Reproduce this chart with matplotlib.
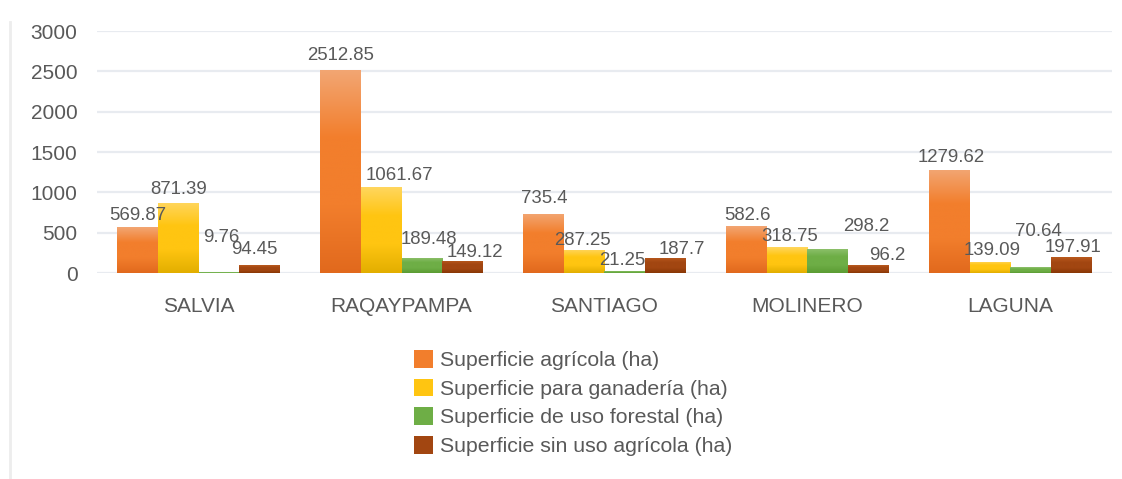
"""Grouped bar chart: land use surface by community (ha)"""
import matplotlib

matplotlib.use("Agg")
import matplotlib.pyplot as plt
import numpy as np
from matplotlib.colors import LinearSegmentedColormap
from matplotlib.lines import Line2D

plt.rcParams["font.family"] = ["Liberation Sans", "DejaVu Sans"]

communities = ["SALVIA", "RAQAYPAMPA", "SANTIAGO", "MOLINERO", "LAGUNA"]
series_names = [
    "Superficie agrícola (ha)",
    "Superficie para ganadería (ha)",
    "Superficie de uso forestal (ha)",
    "Superficie sin uso agrícola (ha)",
]
agricola = [569.87, 2512.85, 735.4, 582.6, 1279.62]
ganaderia = [871.39, 1061.67, 287.25, 318.75, 139.09]
forestal = [9.76, 189.48, 21.25, 298.2, 70.64]
sin_uso = [94.45, 149.12, 187.7, 96.2, 197.91]
y_ticks = [0, 500, 1000, 1500, 2000, 2500, 3000]

# gradient stops (top, middle, bottom) for each series
gradients = [
    ("#F3A673", "#F27E2C", "#E1691D"),
    ("#FFD65E", "#FFC511", "#E2AE00"),
    ("#90C26F", "#6EAE46", "#5B9C33"),
    ("#BA5A1E", "#A24611", "#883705"),
]

# label offsets in pixels (dx, dy) from the top centre of each bar, per series
label_offsets = [
    [(0, 12), (0, 15), (1, 15), (1, 11), (2, 12)],
    [(0, 13), (18, 12), (-2, 9), (2, 11), (2, 11)],
    [(2, 35), (7, 18), (-3, 11), (39, 22), (8, 36)],
    [(-5, 16), (12, 9), (16, 8), (19, 10), (2, 10)],
]

text_color = "#595959"

fig = plt.figure(figsize=(11.22, 4.79), dpi=100)
ax = fig.add_axes([0.0865, 0.430, 0.9045, 0.505])

all_series = [agricola, ganaderia, forestal, sin_uso]
x = np.arange(len(communities))
width = 0.2

handles = []
for i, values in enumerate(all_series):
    top, mid, bottom = gradients[i]
    cmap = LinearSegmentedColormap.from_list(f"g{i}", [bottom, mid, mid, top])
    bars = ax.bar(x + (i - 1.5) * width, values, width, color=mid, label=series_names[i], zorder=2)
    handles.append(bars)
    for j, bar in enumerate(bars):
        x0, y0 = bar.get_x(), bar.get_y()
        x1, y1 = x0 + bar.get_width(), y0 + bar.get_height()
        grad = np.linspace(0, 1, 256).reshape(-1, 1)
        im = ax.imshow(grad, extent=[x0, x1, y0, y1], origin="lower", aspect="auto",
                       cmap=cmap, zorder=3)
        im.set_clip_path(bar)
        dx, dy = label_offsets[i][j]
        ax.annotate(f"{values[j]:g}", (bar.get_x() + bar.get_width() / 2, y1),
                    xytext=(dx, dy), textcoords="offset pixels", ha="center", va="center",
                    fontsize=13.4, color=text_color, zorder=4)

ax.set_xlim(-0.5, len(communities) - 0.5)
ax.set_ylim(0, 3000)
ax.set_yticks(y_ticks)
ax.set_xticks(x)
ax.set_xticklabels(communities)
ax.tick_params(axis="both", length=0, labelsize=15, labelcolor=text_color)
ax.tick_params(axis="x", pad=17)
ax.tick_params(axis="y", pad=14)
ax.grid(axis="y", color="#E8EBF0", linewidth=1.6, zorder=0)
ax.set_axisbelow(True)
for spine in ax.spines.values():
    spine.set_visible(False)

fig.legend(handles=handles, labels=series_names, loc="upper left",
           bbox_to_anchor=(414 / 1122, 1 - 350 / 479), frameon=False, fontsize=15.3,
           labelcolor=text_color, handlelength=0.9, handleheight=0.9, handletextpad=0.3,
           labelspacing=0.40, borderpad=0, borderaxespad=0)

fig.add_artist(Line2D([10 / 1122, 10 / 1122], [0, 1 - 22 / 479], transform=fig.transFigure,
                      color="#EDEDED", linewidth=2))

fig.savefig("out.png", dpi=100)
